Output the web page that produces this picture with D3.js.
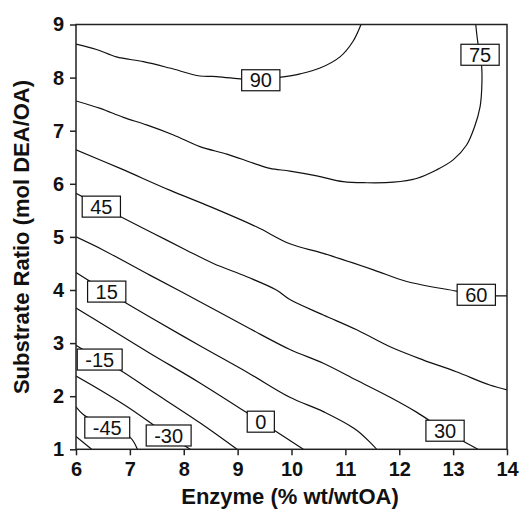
<!DOCTYPE html>
<html>
<head>
<meta charset="utf-8">
<script src="https://cdn.jsdelivr.net/npm/d3@7"></script>
<style>
body { margin: 0; background: #fff; }
svg { display: block; font-family: "Liberation Sans", Arial, sans-serif; }
</style>
</head>
<body>
<svg id="chart" width="519" height="510"></svg>
<script>
// Ticks
const xTicks = [6, 7, 8, 9, 10, 11, 12, 13, 14]
const yTicks = [1, 2, 3, 4, 5, 6, 7, 8, 9]

// Contour lines, points: [enzyme, substrate ratio]
const contour90 = [[6.00, 8.63], [6.38, 8.53], [6.75, 8.39], [7.25, 8.30], [7.74, 8.18], [8.30, 8.03], [8.61, 8.02], [9.09, 7.97], [9.43, 7.95], [9.77, 8.00], [10.16, 8.07], [10.53, 8.18], [10.90, 8.39], [11.14, 8.68], [11.29, 9.00]]
const contour75 = [[6.00, 7.56], [6.45, 7.42], [6.88, 7.25], [7.31, 7.11], [7.81, 6.92], [8.30, 6.70], [8.80, 6.56], [9.29, 6.39], [9.60, 6.29], [9.97, 6.24], [10.47, 6.15], [10.96, 6.04], [11.40, 6.02], [11.89, 6.03], [12.32, 6.10], [12.69, 6.26], [13.00, 6.45], [13.25, 6.73], [13.40, 7.08], [13.50, 7.45], [13.53, 7.77], [13.53, 8.21], [13.50, 8.43], [13.46, 8.65], [13.42, 9.00]]
const contour60 = [[6.00, 6.64], [6.82, 6.29], [7.74, 5.88], [8.49, 5.57], [9.35, 5.19], [9.97, 4.87], [10.59, 4.69], [11.52, 4.38], [12.14, 4.16], [13.06, 3.98], [13.43, 3.91], [13.77, 3.89], [14.00, 3.89]]
const contour45 = [[6.00, 5.82], [6.47, 5.57], [6.83, 5.38], [7.43, 5.07], [8.05, 4.75], [8.55, 4.50], [9.17, 4.25], [9.72, 4.00], [9.97, 3.82], [10.59, 3.53], [11.21, 3.25], [11.83, 2.93], [12.45, 2.68], [13.06, 2.46], [13.68, 2.21], [14.00, 2.12]]
const contour30 = [[6.00, 5.00], [6.51, 4.75], [7.37, 4.28], [8.30, 3.78], [9.23, 3.27], [9.97, 2.88], [10.59, 2.62], [11.21, 2.30], [11.83, 1.98], [12.32, 1.70], [12.85, 1.35], [13.46, 1.00]]
const contour15 = [[6.00, 4.33], [6.57, 3.97], [7.37, 3.49], [8.30, 2.95], [9.23, 2.42], [9.97, 1.98], [10.59, 1.71], [11.21, 1.36], [11.58, 1.00]]
const contour0 = [[6.00, 3.66], [6.63, 3.27], [7.37, 2.81], [8.30, 2.25], [9.43, 1.52], [10.22, 1.00]]
const contourM15 = [[6.00, 2.96], [6.44, 2.69], [6.82, 2.49], [7.37, 2.12], [8.30, 1.50], [8.99, 1.00]]
const contourM30 = [[6.00, 2.38], [6.51, 2.08], [7.00, 1.77], [7.72, 1.26], [8.12, 1.00]]
const contourM45 = [[6.00, 1.80], [6.14, 1.65], [6.58, 1.41], [7.00, 1.23], [7.14, 1.00]]
const contourM60 = [[6.00, 1.24], [6.29, 1.00]]

const contours = [contour90, contour75, contour60, contour45, contour30, contour15,
    contour0, contourM15, contourM30, contourM45, contourM60]

// Contour labels
const labelText = ["90", "75", "60", "45", "30", "15", "0", "-15", "-30", "-45"]
const labelX = [9.43, 13.50, 13.43, 6.47, 12.85, 6.57, 9.43, 6.44, 7.72, 6.58]
const labelY = [7.95, 8.43, 3.91, 5.57, 1.35, 3.97, 1.52, 2.69, 1.26, 1.41]

const svg = d3.select("#chart")

const x = d3.scaleLinear()
    .domain([6, 14])
    .range([76, 507])
const y = d3.scaleLinear()
    .domain([1, 9])
    .range([449.3, 24.5])

svg.append("clipPath")
    .attr("id", "plotClip")
    .append("rect")
    .attr("x", 76)
    .attr("y", 24.5)
    .attr("width", 431)
    .attr("height", 424.8)

// Lignes de niveau
const line = d3.line()
    .x(d => x(d[0]))
    .y(d => y(d[1]))
    .curve(d3.curveCatmullRom)

svg.append("g")
    .attr("clip-path", "url(#plotClip)")
    .selectAll("path")
    .data(contours)
    .enter()
    .append("path")
    .attr("d", line)
    .attr("fill", "none")
    .attr("stroke", "#111")
    .attr("stroke-width", 1.2)

// Etiquettes
const labels = svg.append("g")
    .selectAll("g")
    .data(labelText)
    .enter()
    .append("g")
    .attr("transform", (d, i) => `translate(${x(labelX[i])}, ${y(labelY[i])})`)

labels.append("rect")
    .attr("fill", "white")
    .attr("stroke", "#111")
    .attr("stroke-width", 1.2)

labels.append("text")
    .attr("text-anchor", "middle")
    .attr("dy", "0.36em")
    .style("font-size", "20px")
    .style("fill", "#111")
    .text(d => d)

labels.each(function () {
    const g = d3.select(this)
    const w = g.select("text").node().getComputedTextLength() + 16
    g.select("rect")
        .attr("x", -w / 2)
        .attr("y", -10.5)
        .attr("width", w)
        .attr("height", 21)
})

// Axes
const xAxis = svg.append("g")
    .attr("transform", "translate(0,449.3)")
    .call(d3.axisBottom(x).tickValues(xTicks).tickSize(6).tickPadding(7))
const yAxis = svg.append("g")
    .attr("transform", "translate(76,0)")
    .call(d3.axisLeft(y).tickValues(yTicks).tickSize(6).tickPadding(6))

for (const ax of [xAxis, yAxis]) {
    ax.select(".domain").remove()
    ax.selectAll("line").attr("stroke", "#222").attr("stroke-width", 1.5)
    ax.selectAll("text")
        .style("font-family", "'Liberation Sans', Arial, sans-serif")
        .style("font-size", "20px")
        .style("font-weight", "bold")
        .style("fill", "#111")
}

// Cadre
svg.append("rect")
    .attr("x", 76)
    .attr("y", 24.5)
    .attr("width", 431)
    .attr("height", 424.8)
    .attr("fill", "none")
    .attr("stroke", "#222")
    .attr("stroke-width", 1.5)

// Titres
svg.append("text")
    .attr("x", 290)
    .attr("y", 504)
    .attr("text-anchor", "middle")
    .style("font-size", "22px")
    .style("font-weight", "bold")
    .style("fill", "#111")
    .text("Enzyme (% wt/wtOA)")

svg.append("text")
    .attr("transform", "translate(29,237) rotate(-90)")
    .attr("text-anchor", "middle")
    .style("font-size", "22px")
    .style("font-weight", "bold")
    .style("fill", "#111")
    .text("Substrate Ratio (mol DEA/OA)")
</script>
</body>
</html>
